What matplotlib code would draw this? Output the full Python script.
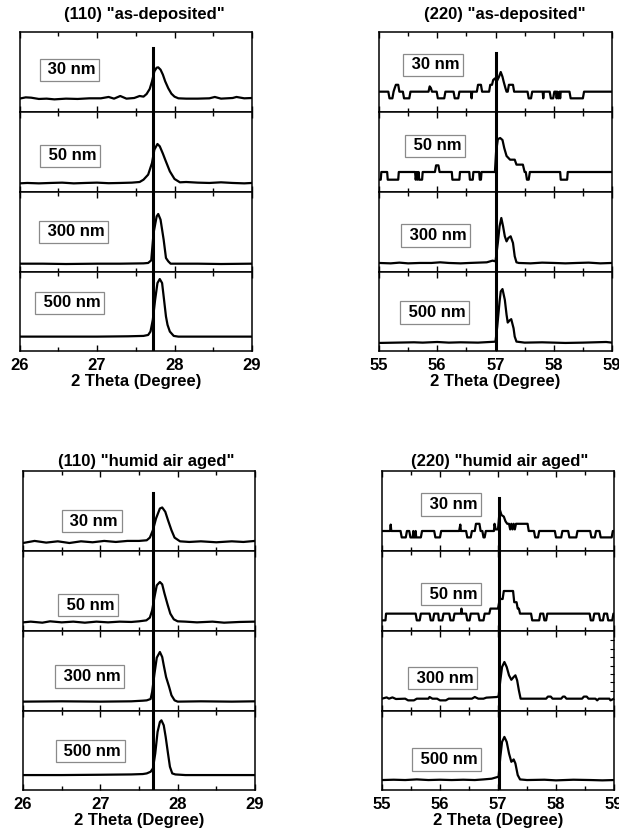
import matplotlib
matplotlib.use("Agg")
import matplotlib.pyplot as plt
from matplotlib.ticker import MultipleLocator

plt.rcParams['font.family'] = ['Liberation Sans', 'DejaVu Sans']
plt.rcParams['font.weight'] = 'bold'

# ---------------- data (intensity as fraction of each strip's height) ----------------
thickness_labels = ["30 nm", "50 nm", "300 nm", "500 nm"]
panel_titles = ['(110) "as-deposited"', '(220) "as-deposited"',
                '(110) "humid air aged"', '(220) "humid air aged"']
x_ranges = [(26, 29), (55, 59), (26, 29), (55, 59)]
ref_lines = [27.72, 57.0, 27.68, 57.02]

a30 = [(26.00,0.167),(26.08,0.183),(26.15,0.179),(26.25,0.163),(26.35,0.167),(26.45,0.158),(26.60,0.167),
       (26.75,0.163),(26.90,0.171),(27.05,0.171),(27.15,0.188),(27.22,0.167),(27.30,0.200),(27.38,0.167),
       (27.48,0.175),(27.55,0.200),(27.60,0.192),(27.64,0.225),(27.68,0.288),(27.71,0.383),(27.74,0.508),
       (27.77,0.554),(27.79,0.558),(27.82,0.529),(27.85,0.467),(27.88,0.383),(27.92,0.296),(27.96,0.229),
       (28.00,0.192),(28.05,0.171),(28.15,0.167),(28.30,0.167),(28.45,0.171),(28.52,0.188),(28.60,0.167),
       (28.75,0.175),(28.80,0.188),(28.90,0.171),(29.00,0.175)]
a50 = [(26.00,0.108),(26.10,0.113),(26.25,0.108),(26.40,0.113),(26.55,0.117),(26.70,0.108),(26.85,0.113),
       (27.00,0.117),(27.15,0.110),(27.30,0.113),(27.45,0.117),(27.55,0.125),(27.60,0.154),(27.66,0.217),
       (27.71,0.363),(27.74,0.529),(27.78,0.600),(27.81,0.571),(27.85,0.480),(27.88,0.404),(27.94,0.258),
       (28.00,0.163),(28.07,0.121),(28.15,0.125),(28.30,0.117),(28.45,0.113),(28.60,0.121),(28.75,0.113),
       (28.90,0.108),(29.00,0.113)]
a300 = [(26.00,0.104),(26.30,0.104),(26.60,0.100),(27.00,0.104),(27.30,0.104),(27.60,0.108),(27.66,0.113),
        (27.70,0.146),(27.73,0.490),(27.77,0.696),(27.79,0.725),(27.82,0.654),(27.86,0.404),(27.89,0.175),
        (27.92,0.133),(27.95,0.104),(28.00,0.104),(28.30,0.104),(28.60,0.100),(29.00,0.104)]
a500 = [(26.00,0.182),(26.50,0.182),(27.00,0.182),(27.40,0.186),(27.60,0.191),(27.66,0.203),(27.69,0.246),
        (27.72,0.394),(27.75,0.648),(27.78,0.860),(27.81,0.911),(27.84,0.860),(27.86,0.691),(27.89,0.436),
        (27.91,0.331),(27.94,0.246),(27.99,0.191),(28.05,0.182),(28.50,0.182),(29.00,0.182)]

b30 = [(55.00,0.254),(55.16,0.254),(55.18,0.171),(55.23,0.171),(55.25,0.254),(55.27,0.300),(55.29,0.340),
       (55.33,0.340),(55.35,0.254),(55.41,0.254),(55.43,0.171),(55.52,0.171),(55.54,0.254),(55.85,0.254),
       (55.87,0.320),(55.89,0.300),(55.91,0.254),(55.99,0.254),(56.01,0.171),(56.12,0.171),(56.14,0.254),
       (56.28,0.254),(56.30,0.171),(56.36,0.171),(56.38,0.254),(56.58,0.254),(56.59,0.171),(56.60,0.254),
       (56.68,0.254),(56.70,0.340),(56.75,0.340),(56.77,0.254),(56.89,0.254),(56.91,0.340),(56.94,0.340),
       (56.96,0.400),(56.99,0.420),(57.02,0.380),(57.06,0.440),(57.09,0.500),(57.12,0.440),(57.14,0.380),
       (57.17,0.300),(57.19,0.254),(57.21,0.254),(57.23,0.340),(57.30,0.340),(57.32,0.254),(57.55,0.254),
       (57.57,0.171),(57.61,0.171),(57.63,0.254),(57.81,0.254),(57.82,0.171),(57.83,0.254),(57.93,0.254),
       (57.95,0.171),(57.99,0.171),(58.01,0.254),(58.04,0.254),(58.05,0.171),(58.06,0.254),(58.08,0.171),
       (58.10,0.254),(58.11,0.171),(58.12,0.254),(58.27,0.254),(58.29,0.171),(58.50,0.171),(58.52,0.254),
       (59.00,0.254)]
b50 = [(55.00,0.154),(55.03,0.154),(55.04,0.250),(55.14,0.250),(55.15,0.154),(55.33,0.154),(55.34,0.250),
       (55.62,0.250),(55.63,0.154),(55.65,0.250),(55.66,0.154),(55.68,0.250),(55.69,0.154),(55.74,0.154),
       (55.75,0.250),(55.96,0.250),(55.98,0.333),(56.02,0.333),(56.04,0.250),(56.25,0.250),(56.26,0.154),
       (56.38,0.154),(56.39,0.250),(56.55,0.250),(56.56,0.154),(56.61,0.154),(56.62,0.250),(56.72,0.250),
       (56.73,0.154),(56.75,0.154),(56.76,0.250),(56.99,0.250),(57.01,0.500),(57.04,0.660),(57.08,0.675),
       (57.12,0.650),(57.15,0.550),(57.19,0.450),(57.25,0.404),(57.33,0.404),(57.36,0.342),(57.47,0.342),
       (57.50,0.250),(57.52,0.250),(57.54,0.154),(57.57,0.154),(57.59,0.250),(58.11,0.250),(58.12,0.154),
       (58.23,0.154),(58.24,0.250),(59.00,0.250)]
b300 = [(55.00,0.113),(55.20,0.108),(55.35,0.117),(55.50,0.108),(55.70,0.113),(55.90,0.113),(56.05,0.121),
        (56.20,0.113),(56.40,0.108),(56.55,0.113),(56.70,0.117),(56.85,0.121),(56.95,0.142),(57.00,0.133),
        (57.04,0.363),(57.07,0.571),(57.10,0.675),(57.13,0.571),(57.16,0.446),(57.19,0.383),(57.22,0.425),
        (57.26,0.446),(57.30,0.363),(57.33,0.196),(57.36,0.121),(57.40,0.113),(57.60,0.108),(57.80,0.117),
        (58.00,0.113),(58.20,0.108),(58.40,0.113),(58.60,0.117),(58.80,0.108),(59.00,0.113)]
b500 = [(55.00,0.102),(55.30,0.106),(55.60,0.110),(55.75,0.106),(56.00,0.114),(56.20,0.106),(56.40,0.110),
        (56.70,0.106),(56.90,0.114),(57.00,0.118),(57.03,0.309),(57.07,0.627),(57.09,0.754),(57.12,0.784),
        (57.16,0.648),(57.19,0.458),(57.21,0.360),(57.24,0.386),(57.27,0.403),(57.31,0.288),(57.33,0.182),
        (57.36,0.119),(57.50,0.106),(57.80,0.110),(58.20,0.102),(58.50,0.106),(58.90,0.114),(59.00,0.106)]

c30 = [(26.00,0.100),(26.15,0.126),(26.30,0.105),(26.45,0.121),(26.60,0.100),(26.75,0.121),(26.90,0.109),
       (27.05,0.126),(27.20,0.113),(27.35,0.126),(27.50,0.126),(27.60,0.134),(27.64,0.167),(27.68,0.260),
       (27.72,0.406),(27.77,0.531),(27.80,0.544),(27.84,0.490),(27.875,0.385),(27.92,0.259),(27.96,0.167),
       (28.03,0.121),(28.15,0.113),(28.30,0.121),(28.50,0.109),(28.70,0.121),(28.85,0.113),(29.00,0.126)]
c50 = [(26.00,0.108),(26.10,0.117),(26.25,0.104),(26.35,0.121),(26.50,0.108),(26.65,0.117),(26.80,0.104),
       (26.95,0.117),(27.10,0.108),(27.25,0.117),(27.40,0.113),(27.50,0.121),(27.595,0.133),(27.64,0.167),
       (27.67,0.258),(27.70,0.425),(27.73,0.571),(27.77,0.6125),(27.80,0.583),(27.83,0.467),(27.87,0.329),
       (27.905,0.217),(27.95,0.146),(28.00,0.121),(28.10,0.117),(28.25,0.108),(28.45,0.117),(28.60,0.104),
       (28.80,0.113),(29.00,0.117)]
c300 = [(26.00,0.117),(26.50,0.121),(27.00,0.117),(27.40,0.121),(27.55,0.129),(27.60,0.133),(27.65,0.150),
        (27.67,0.238),(27.70,0.467),(27.73,0.667),(27.77,0.7375),(27.80,0.675),(27.82,0.571),(27.85,0.425),
        (27.89,0.300),(27.92,0.196),(27.96,0.133),(28.00,0.117),(28.30,0.121),(28.70,0.117),(29.00,0.121)]
c500 = [(26.00,0.189),(26.50,0.189),(27.00,0.193),(27.40,0.197),(27.55,0.202),(27.60,0.210),(27.65,0.231),
        (27.68,0.273),(27.71,0.462),(27.74,0.735),(27.77,0.861),(27.79,0.882),(27.82,0.819),(27.845,0.672),
        (27.875,0.462),(27.90,0.294),(27.93,0.210),(27.97,0.197),(28.10,0.189),(28.50,0.189),(29.00,0.189)]

d30 = [(55.00,0.25),(55.14,0.25),(55.15,0.33),(55.16,0.25),(55.32,0.25),(55.34,0.17),(55.41,0.17),
       (55.43,0.25),(55.47,0.25),(55.49,0.17),(55.53,0.17),(55.54,0.25),(55.55,0.17),(55.57,0.17),
       (55.58,0.25),(55.59,0.17),(55.67,0.17),(55.69,0.25),(55.90,0.25),(55.92,0.17),(56.00,0.17),
       (56.02,0.25),(56.33,0.25),(56.35,0.33),(56.36,0.25),(56.45,0.25),(56.47,0.17),(56.53,0.17),
       (56.55,0.25),(56.60,0.25),(56.62,0.34),(56.68,0.34),(56.70,0.25),(56.73,0.25),(56.75,0.17),
       (56.77,0.17),(56.79,0.25),(56.93,0.25),(56.94,0.34),(56.96,0.27),(57.00,0.27),(57.03,0.52),
       (57.06,0.45),(57.10,0.43),(57.13,0.37),(57.16,0.34),(57.19,0.34),(57.21,0.27),(57.23,0.34),
       (57.25,0.27),(57.27,0.34),(57.29,0.27),(57.31,0.34),(57.36,0.34),(57.51,0.34),(57.53,0.25),
       (57.62,0.25),(57.64,0.17),(57.69,0.17),(57.71,0.25),(57.98,0.25),(58.00,0.17),(58.09,0.17),
       (58.11,0.25),(58.21,0.25),(58.23,0.17),(58.35,0.17),(58.37,0.25),(58.59,0.25),(58.61,0.17),
       (58.67,0.17),(58.69,0.25),(58.75,0.25),(58.77,0.17),(58.96,0.17),(58.98,0.25),(59.00,0.25)]
d50 = [(55.00,0.133),(55.06,0.133),(55.07,0.217),(55.58,0.217),(55.60,0.133),(55.65,0.133),(55.67,0.217),
       (55.82,0.217),(55.84,0.133),(55.88,0.133),(55.90,0.217),(55.97,0.217),(55.98,0.133),(56.04,0.133),
       (56.06,0.217),(56.16,0.217),(56.18,0.133),(56.23,0.133),(56.25,0.217),(56.36,0.217),(56.37,0.280),
       (56.38,0.217),(56.45,0.217),(56.47,0.133),(56.51,0.133),(56.53,0.217),(56.66,0.217),(56.68,0.133),
       (56.75,0.133),(56.77,0.217),(56.85,0.217),(56.87,0.280),(57.00,0.280),(57.03,0.400),(57.08,0.400),
       (57.10,0.500),(57.26,0.500),(57.28,0.360),(57.32,0.360),(57.34,0.280),(57.36,0.280),(57.38,0.217),
       (57.57,0.217),(57.59,0.133),(57.71,0.133),(57.73,0.217),(57.78,0.217),(57.80,0.133),(57.83,0.133),
       (57.85,0.217),(58.58,0.217),(58.60,0.133),(58.64,0.133),(58.66,0.217),(58.74,0.217),(58.76,0.133),
       (58.81,0.133),(58.83,0.217),(58.88,0.217),(58.90,0.133),(58.97,0.133),(58.99,0.217),(59.00,0.217)]
d300 = [(55.00,0.154),(55.08,0.170),(55.12,0.154),(55.18,0.170),(55.24,0.150),(55.40,0.154),(55.45,0.133),
        (55.55,0.133),(55.60,0.154),(55.80,0.154),(55.82,0.175),(55.87,0.154),(55.95,0.154),(56.00,0.133),
        (56.10,0.133),(56.15,0.154),(56.55,0.154),(56.60,0.175),(56.66,0.154),(56.75,0.154),(56.80,0.167),
        (56.98,0.175),(57.01,0.183),(57.04,0.383),(57.07,0.550),(57.11,0.6125),(57.15,0.550),(57.19,0.446),
        (57.23,0.390),(57.27,0.425),(57.30,0.446),(57.33,0.383),(57.36,0.258),(57.39,0.154),(57.45,0.154),
        (57.83,0.154),(57.86,0.180),(57.91,0.180),(57.94,0.154),(58.09,0.154),(58.12,0.180),(58.15,0.180),
        (58.18,0.154),(58.45,0.154),(58.48,0.180),(58.53,0.180),(58.56,0.154),(58.68,0.154),(58.71,0.133),
        (58.74,0.154),(58.92,0.154),(58.94,0.133),(59.00,0.154)]
d500 = [(55.00,0.126),(55.20,0.130),(55.40,0.126),(55.60,0.134),(55.80,0.126),(56.00,0.130),(56.20,0.126),
        (56.40,0.130),(56.60,0.126),(56.75,0.134),(56.89,0.143),(56.97,0.160),(57.01,0.168),(57.04,0.420),
        (57.07,0.609),(57.11,0.672),(57.15,0.609),(57.19,0.462),(57.23,0.357),(57.26,0.378),(57.27,0.387),
        (57.30,0.336),(57.34,0.189),(57.38,0.134),(57.50,0.126),(57.80,0.130),(58.00,0.122),(58.30,0.130),
        (58.60,0.126),(58.80,0.122),(59.00,0.126)]

d300_right_ticks = [0.146, 0.254, 0.358, 0.4625, 0.566, 0.671, 0.775, 0.8875]

# ---------------- layout (pixel geometry of the reference) ----------------
W, H = 619, 835
panels = [
    dict(curves=[a30, a50, a300, a500], x0=19.5, x1=252, ys=[32, 112, 192, 272, 351],
         line_top=0.80, title_xy=(144, 15),
         label_pos=[(0.215, 0.525), (0.217, 0.45), (0.232, 0.50), (0.217, 0.61)]),
    dict(curves=[b30, b50, b300, b500], x0=379, x1=612, ys=[32, 112, 192, 272, 351],
         line_top=0.74, title_xy=(505, 15),
         label_pos=[(0.232, 0.59), (0.240, 0.575), (0.243, 0.456), (0.240, 0.487)]),
    dict(curves=[c30, c50, c300, c500], x0=23, x1=255, ys=[471, 551, 631, 711, 790],
         line_top=0.725, title_xy=(146.7, 462),
         label_pos=[(0.296, 0.375), (0.280, 0.325), (0.287, 0.43), (0.290, 0.49)]),
    dict(curves=[d30, d50, d300, d500], x0=382, x1=614, ys=[471, 551, 631, 711, 790],
         line_top=0.66, title_xy=(500, 462),
         label_pos=[(0.297, 0.58), (0.297, 0.46), (0.260, 0.41), (0.280, 0.386)]),
]

fig = plt.figure(figsize=(W / 100, H / 100), dpi=100)

for pi, p in enumerate(panels):
    xlo, xhi = x_ranges[pi]
    for si in range(4):
        ytop, ybot = p['ys'][si], p['ys'][si + 1]
        ax = fig.add_axes([p['x0'] / W, 1 - ybot / H, (p['x1'] - p['x0']) / W, (ybot - ytop) / H])
        xs, ys = zip(*p['curves'][si])
        ax.plot(xs, ys, color='black', lw=1.6, solid_joinstyle='round')
        ax.axvline(ref_lines[pi], ymin=0, ymax=(p['line_top'] if si == 0 else 1),
                   color='black', lw=2.2)
        ax.set_xlim(xlo, xhi)
        ax.set_ylim(0, 1)
        ax.set_yticks([])
        ax.xaxis.set_major_locator(MultipleLocator(1))
        ax.xaxis.set_minor_locator(MultipleLocator(0.5))
        ax.tick_params(axis='x', which='both', direction='in', top=True, bottom=True,
                       width=1.0, labelsize=12, pad=5)
        ax.tick_params(axis='x', which='major', length=4)
        ax.tick_params(axis='x', which='minor', length=3)
        for s in ax.spines.values():
            s.set_linewidth(1.1)
        if si < 3:
            ax.tick_params(axis='x', labelbottom=False)
        else:
            ax.set_xticks(range(xlo, xhi + 1))
            ax.set_xticklabels([str(v) for v in range(xlo, xhi + 1)], fontweight='bold', fontsize=12)
            ax.set_xlabel('2 Theta (Degree)', fontsize=12, fontweight='bold', labelpad=1)
        if pi == 3 and si == 2:
            ax.yaxis.set_ticks_position('right')
            ax.set_yticks(d300_right_ticks)
            ax.tick_params(axis='y', direction='in', length=3, width=0.8, labelright=False)
        lx, ly = p['label_pos'][si]
        ax.text(lx, ly, ' ' + thickness_labels[si], transform=ax.transAxes, ha='center', va='center',
                fontsize=12, fontweight='bold',
                bbox=dict(boxstyle='square,pad=0.22', fc='white', ec='#8a8a8a', lw=0.9))
    tx, ty = p['title_xy']
    fig.text(tx / W, 1 - ty / H, panel_titles[pi], ha='center', va='center',
             fontsize=12, fontweight='bold')

fig.savefig('out.png', dpi=100)
